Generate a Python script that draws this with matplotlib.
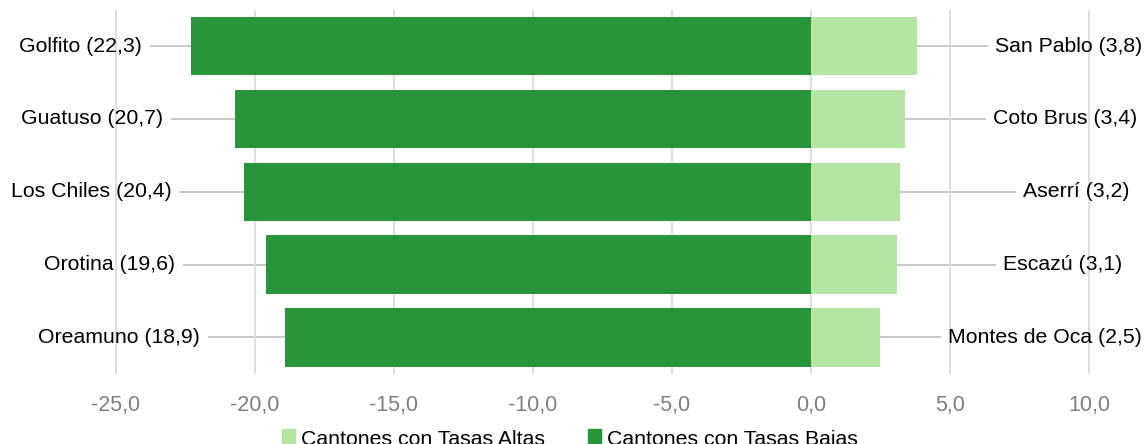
import matplotlib.pyplot as plt
import numpy as np
from matplotlib.patches import Patch

plt.rcParams['font.family'] = ['Liberation Sans', 'DejaVu Sans']

# data
bajas_names = ['Golfito', 'Guatuso', 'Los Chiles', 'Orotina', 'Oreamuno']
bajas_vals = [22.3, 20.7, 20.4, 19.6, 18.9]
altas_names = ['San Pablo', 'Coto Brus', 'Aserrí', 'Escazú', 'Montes de Oca']
altas_vals = [3.8, 3.4, 3.2, 3.1, 2.5]
ticks = [-25, -20, -15, -10, -5, 0, 5, 10]

# label anchor x positions (data units)
left_lab_x = [-24.05, -23.3, -23.0, -22.88, -21.98]
right_lab_x = [6.62, 6.55, 7.63, 6.91, 4.93]

dark = '#28953b'
light = '#b5e5a3'
fs = 15.3

fig = plt.figure(figsize=(11.47, 4.44), dpi=100)
ax = fig.add_axes([0, 0.158, 1, 0.82])

y = np.arange(len(bajas_vals))
ax.barh(y, [-v for v in bajas_vals], height=0.8, color=dark, zorder=2)
ax.barh(y, altas_vals, height=0.8, color=light, zorder=2)

for i in range(len(y)):
    lab = f"{bajas_names[i]} ({str(bajas_vals[i]).replace('.', ',')})"
    ax.text(left_lab_x[i], y[i], lab, ha='right', va='center', fontsize=fs)
    ax.plot([left_lab_x[i] + 0.32, -bajas_vals[i]], [y[i], y[i]],
            color='#bfbfbf', lw=1.2, zorder=1)
    lab = f"{altas_names[i]} ({str(altas_vals[i]).replace('.', ',')})"
    ax.text(right_lab_x[i], y[i], lab, ha='left', va='center', fontsize=fs)
    ax.plot([altas_vals[i], right_lab_x[i] - 0.28], [y[i], y[i]],
            color='#bfbfbf', lw=1.2, zorder=1)

ax.set_xlim(-29.17, 12.09)
ax.set_ylim(4.5, -0.5)
ax.set_yticks([])
ax.set_xticks(ticks)
ax.set_xticklabels([f"{t:.1f}".replace('.', ',') for t in ticks],
                   color='#7f7f7f', fontsize=15.5)
ax.tick_params(axis='x', length=0, pad=15)
ax.grid(axis='x', color='#d9d9d9', lw=1.2, zorder=0)
for s in ax.spines.values():
    s.set_visible(False)

handles = [Patch(color=light, label='Cantones con Tasas Altas'),
           Patch(color=dark, label='Cantones con Tasas Bajas')]
fig.legend(handles=handles, loc='center', bbox_to_anchor=(0.497, 0.012),
           ncol=2, frameon=False, fontsize=fs, handlelength=0.6,
           handleheight=0.9, handletextpad=0.3, columnspacing=2.0)

fig.savefig('out.png', dpi=100)
